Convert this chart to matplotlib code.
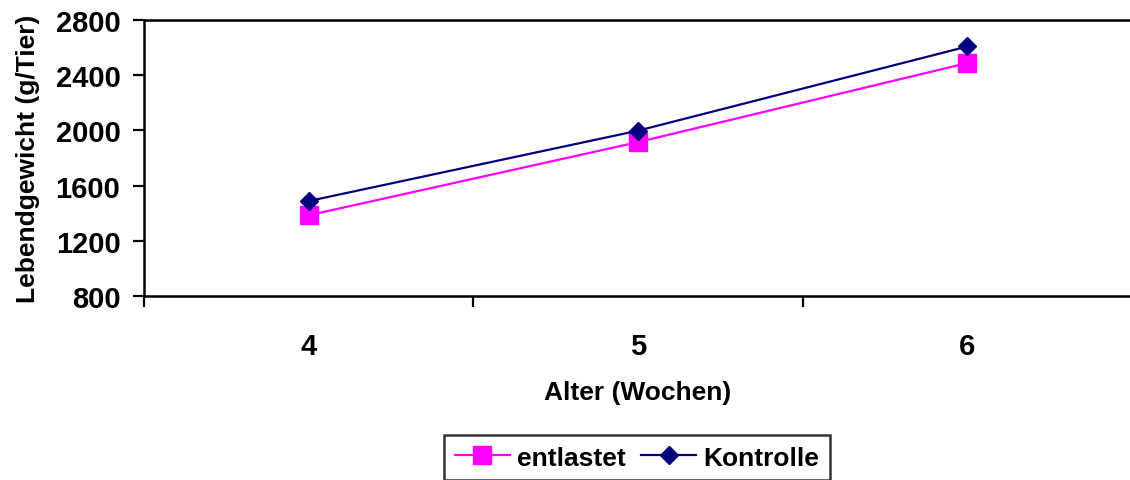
import matplotlib
matplotlib.use("Agg")
import matplotlib.pyplot as plt
from matplotlib.ticker import FixedLocator

# Lebendgewicht nach Alter, entlastet vs. Kontrolle
weeks = ["4", "5", "6"]
entlastet = [1385, 1915, 2488]
kontrolle = [1488, 1998, 2608]
y_ticks = [800, 1200, 1600, 2000, 2400, 2800]

plt.rcParams["font.family"] = ["Liberation Sans", "DejaVu Sans"]
plt.rcParams["font.weight"] = "bold"


def main():
    fig = plt.figure(figsize=(11.3, 4.81), dpi=100)
    ax = fig.add_axes([144 / 1130, 1 - 297 / 481, 988 / 1130, 276 / 481])

    x = list(range(len(weeks)))
    ax.plot(x, entlastet, color="#FF00FF", lw=1.6, marker="s", ms=12.5,
            label="entlastet", zorder=3)
    ax.plot(x, kontrolle, color="#000080", lw=1.6, marker="D", ms=9.5,
            label="Kontrolle", zorder=4)

    ax.set_xlim(-0.5, 2.5)
    ax.set_ylim(800, 2800)
    ax.set_yticks(y_ticks)
    ax.set_xticks(x)
    ax.set_xticklabels(weeks)
    ax.xaxis.set_minor_locator(FixedLocator([-0.5, 0.5, 1.5, 2.5]))

    for s in ["top", "left", "bottom"]:
        ax.spines[s].set_linewidth(1.8)
        ax.spines[s].set_color("black")
    ax.spines["right"].set_visible(False)

    ax.tick_params(axis="y", direction="out", length=8, width=1.6,
                   labelsize=21, pad=9)
    ax.tick_params(axis="x", which="major", length=0, labelsize=21, pad=26)
    ax.tick_params(axis="x", which="minor", direction="out", length=8,
                   width=1.6)

    ax.set_xlabel("Alter (Wochen)", fontsize=19, fontweight="bold", labelpad=14)
    ax.set_ylabel("Lebendgewicht (g/Tier)", fontsize=19, fontweight="bold",
                  labelpad=11)

    leg = fig.legend(loc="upper center", bbox_to_anchor=(637 / 1130, 1 - 436 / 481),
                     ncol=2, fontsize=19, frameon=True, fancybox=False,
                     handlelength=2.1, columnspacing=0.57, handletextpad=0.27,
                     borderpad=0.4, borderaxespad=0)
    leg.get_frame().set_edgecolor("black")
    leg.get_frame().set_linewidth(1.8)
    for t in leg.get_texts():
        t.set_fontweight("bold")

    fig.savefig("out.png", dpi=100)


if __name__ == "__main__":
    main()
